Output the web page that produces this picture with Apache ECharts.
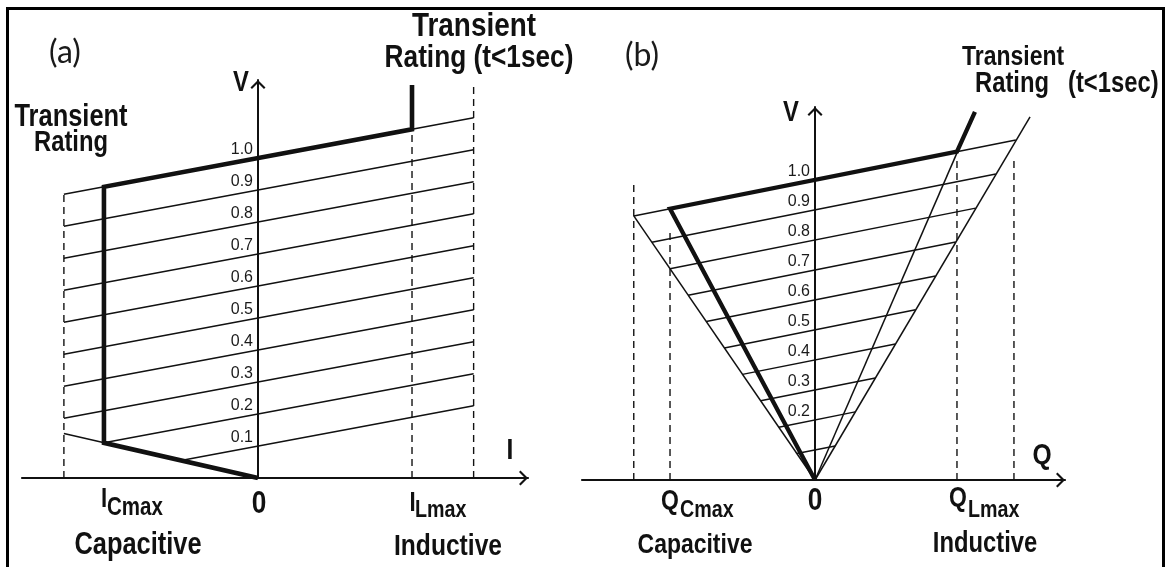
<!DOCTYPE html>
<html><head><meta charset="utf-8">
<script src="https://cdn.jsdelivr.net/npm/echarts@6/dist/echarts.min.js"></script>
<style>html,body{margin:0;padding:0;background:#fff}#c{width:1166px;height:567px}</style>
</head><body><div id="c"></div>
<script>
// ---------- Panel (a): V–I characteristic ----------
const levelsA      = [0.1, 0.2, 0.3, 0.4, 0.5, 0.6, 0.7, 0.8, 0.9, 1.0];
const levelStartIA = [-0.50, -1.00, -1.26, -1.26, -1.26, -1.26, -1.26, -1.26, -1.26, -1.26];
const levelStartVA = [0.055, 0.110, 0.187, 0.287, 0.387, 0.487, 0.587, 0.687, 0.787, 0.887];
const levelEndIA   = [1.40, 1.40, 1.40, 1.40, 1.40, 1.40, 1.40, 1.40, 1.40, 1.40];
const levelEndVA   = [0.226, 0.326, 0.426, 0.526, 0.626, 0.726, 0.826, 0.926, 1.026, 1.126];
const capLineIA    = [0, -1.26];
const capLineVA    = [0, 0.139];
const thickIA      = [0, -1.00, -1.00, 1.00, 1.00];
const thickVA      = [0, 0.110, 0.910, 1.090, 1.228];
const dashIA       = [-1.26, 1.00, 1.40];
const dashTopVA    = [0.887, 1.090, 1.234];

// ---------- Panel (b): V–Q characteristic ----------
const levelsB      = [0.1, 0.2, 0.3, 0.4, 0.5, 0.6, 0.7, 0.8, 0.9, 1.0];
const levelStartQB = [-0.125, -0.25, -0.375, -0.50, -0.625, -0.75, -0.875, -1.00, -1.125, -1.25];
const levelStartVB = [0.088, 0.176, 0.264, 0.352, 0.440, 0.528, 0.616, 0.704, 0.792, 0.880];
const levelEndQB   = [0.139, 0.277, 0.416, 0.554, 0.693, 0.831, 0.970, 1.108, 1.247, 1.385];
const levelEndVB   = [0.113, 0.227, 0.340, 0.453, 0.567, 0.680, 0.793, 0.906, 1.020, 1.133];
const leftEdgeQB   = [0, -1.25];
const leftEdgeVB   = [0, 0.880];
const innerRightQB = [0, 0.979];
const innerRightVB = [0, 1.090];
const outerRightQB = [0, 1.483];
const outerRightVB = [0, 1.210];
const thickQB      = [0, -1.00, 0.979, 1.103];
const thickVB      = [0, 0.904, 1.094, 1.227];
const dashQB       = [-1.25, -1.00, 0.979, 1.372];
const dashTopVB    = [0.990, 0.830, 1.073, 1.073];

const INK = '#111';
const SANS = "'Liberation Sans',Arial,Helvetica,sans-serif";
const NARROW_X = 0.82;
const CHEV = 'path://M0,10L10,0L20,10L18,12L10,4L2,12Z';

function pts(xs, ys) { return xs.map((x, i) => [x, ys[i]]); }
function line(idx, data, width, dashed, z) {
  return {
    type: 'line', xAxisIndex: idx, yAxisIndex: idx, data: data, symbol: 'none',
    silent: true, animation: false, z: z || 3,
    lineStyle: { color: INK, width: width, type: dashed ? [7, 5] : 'solid', cap: 'butt', join: 'miter' }
  };
}

const series = [];
levelsA.forEach((k, i) => series.push(line(0, [[levelStartIA[i], levelStartVA[i]], [levelEndIA[i], levelEndVA[i]]], 1.5)));
series.push(line(0, pts(capLineIA, capLineVA), 1.5));
dashIA.forEach((x, i) => series.push(line(0, [[x, 0], [x, dashTopVA[i]]], 1.4, true)));
series.push(line(0, pts(thickIA, thickVA), 4.6, false, 6));

levelsB.forEach((k, i) => series.push(line(1, [[levelStartQB[i], levelStartVB[i]], [levelEndQB[i], levelEndVB[i]]], 1.5)));
series.push(line(1, pts(leftEdgeQB, leftEdgeVB), 1.5));
series.push(line(1, pts(innerRightQB, innerRightVB), 1.5));
series.push(line(1, pts(outerRightQB, outerRightVB), 1.5));
dashQB.forEach((x, i) => series.push(line(1, [[x, 0], [x, dashTopVB[i]]], 1.4, true)));
series.push(line(1, pts(thickQB, thickVB), 4.3, false, 6));

function xAx(idx, min, max) {
  return {
    gridIndex: idx, type: 'value', min: min, max: max,
    axisLine: { show: true, onZero: true, lineStyle: { color: INK, width: 2.2 },
      symbol: ['none', CHEV], symbolSize: [16, 9], symbolOffset: [0, -4.5] },
    axisTick: { show: false }, axisLabel: { show: false }, splitLine: { show: false }
  };
}
function yAx(idx, max, minLabel, labelMargin) {
  return {
    gridIndex: idx, type: 'value', min: 0, max: max, interval: 0.1,
    axisLine: { show: true, onZero: true, lineStyle: { color: INK, width: 2 },
      symbol: ['none', CHEV], symbolSize: [16, 9], symbolOffset: [0, -4.5] },
    axisTick: { show: false }, splitLine: { show: false },
    axisLabel: {
      show: true, inside: true, margin: labelMargin, align: 'right',
      color: '#1a1a1a', fontSize: 16, fontFamily: SANS,
      verticalAlign: 'bottom', lineHeight: 16, showMinLabel: false, showMaxLabel: false,
      formatter: v => (v > minLabel - 0.01 && v < 1.05) ? v.toFixed(1) : ''
    }
  };
}

function txt(s, x, y, size, align, opt) {
  opt = opt || {};
  return {
    type: 'text', x: x, y: y, silent: true, z: 50,
    scaleX: opt.sx == null ? NARROW_X : opt.sx,
    style: { text: s, fill: opt.color || INK, align: align || 'center', verticalAlign: 'middle',
      font: (opt.weight || 'bold') + ' ' + size + 'px ' + (opt.family || SANS) }
  };
}

const LABEL_FONT = { family: "Lato,'Open Sans',sans-serif", weight: 'normal', sx: 1, color: '#1a1a1a' };
const graphics = [
  { type: 'rect', silent: true, z: 60, shape: { x: 7.5, y: 8.5, width: 1156, height: 620 },
    style: { fill: 'none', stroke: '#000', lineWidth: 3 } },
  txt('(a)', 65, 53, 32, 'center', LABEL_FONT),
  txt('(b)', 642, 56, 32, 'center', LABEL_FONT),
  // panel a
  txt('Transient', 71, 117, 31),
  txt('Rating', 71, 143, 29),
  txt('Transient', 474, 27, 34),
  txt('Rating (t<1sec)', 479, 58, 32),
  txt('V', 241, 83, 29),
  txt('I', 510, 451, 30),
  txt('0', 259, 504, 32),
  txt('I', 104, 499.5, 27),
  txt('Cmax', 107, 508, 25, 'left'),
  txt('I', 412.5, 504, 27),
  txt('Lmax', 415, 510.5, 24, 'left'),
  txt('Capacitive', 138, 545, 31),
  txt('Inductive', 448, 547, 30),
  // panel b
  txt('Transient', 962, 57, 28, 'left'),
  txt('Rating', 975, 84, 29, 'left'),
  txt('(t<1sec)', 1068, 84, 29, 'left'),
  txt('V', 791, 113, 29),
  txt('Q', 1042, 456, 30),
  txt('0', 815, 501.5, 32),
  txt('Q', 670, 501.5, 28),
  txt('Cmax', 680, 510.5, 24, 'left'),
  txt('Q', 958, 498.5, 28),
  txt('Lmax', 968, 510.5, 24, 'left'),
  txt('Capacitive', 695, 545, 28),
  txt('Inductive', 985, 544, 29)
];

const chart = echarts.init(document.getElementById('c'), null, { renderer: 'canvas' });
chart.setOption({
  animation: false,
  backgroundColor: '#fff',
  grid: [
    { left: 22, top: 80, width: 506, height: 398 },
    { left: 582, top: 107, width: 483, height: 373 }
  ],
  xAxis: [xAx(0, -1.532, 1.753), xAx(1, -1.607, 1.724)],
  yAxis: [yAx(0, 1.244, 0.1, 231), yAx(1, 1.243, 0.2, 228)],
  series: series,
  graphic: graphics
});
</script></body></html>
